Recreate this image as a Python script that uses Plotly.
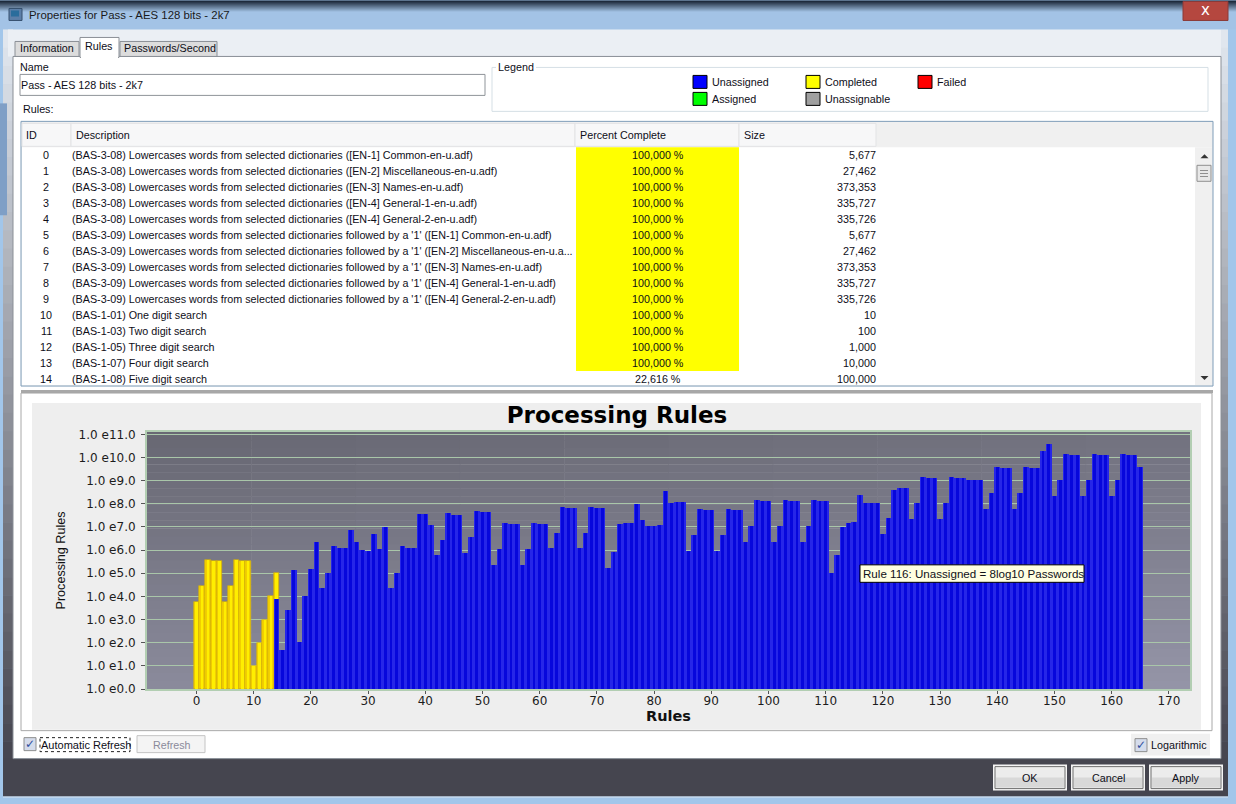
import plotly.graph_objects as go

W, H = 1236, 804
PL, PR, PT, PB = 147, 1190, 432, 689.3

# ---------- data ----------
# heights are log10(passwords)
completed_rules = list(range(0, 15))
completed_log10 = [3.75, 4.44, 5.57, 5.53, 5.53, 3.75, 4.44, 5.57, 5.53, 5.53, 1.0, 2.0, 3.0, 4.0, 5.0]
unassigned_rules = list(range(14, 166))
unassigned_log10 = [
    3.87, 1.70, 3.42, 5.15, 2.01, 4.03, 5.19, 6.36, 4.36, 5.03, 6.17, 6.11, 6.11, 6.86, 6.36, 6.01,
    5.98, 6.69, 6.04, 7.00, 4.36, 5.03, 6.17, 6.11, 6.11, 7.56, 7.56, 7.07, 5.77, 6.44, 7.59, 7.53,
    7.53, 5.88, 6.56, 7.69, 7.65, 7.65, 5.35, 6.04, 7.16, 7.12, 7.12, 5.35, 6.04, 7.16, 7.12, 7.12,
    6.07, 6.74, 7.88, 7.82, 7.82, 6.07, 6.74, 7.88, 7.82, 7.82, 5.23, 5.92, 7.12, 7.16, 7.15, 7.99,
    7.29, 7.03, 7.03, 7.07, 8.57, 8.02, 8.07, 8.07, 5.98, 6.66, 7.78, 7.74, 7.74, 5.98, 6.66, 7.78,
    7.74, 7.74, 6.36, 7.03, 8.17, 8.12, 8.12, 6.36, 7.03, 8.17, 8.12, 8.12, 6.36, 7.03, 8.17, 8.12,
    8.12, 5.00, 5.77, 7.00, 7.16, 7.20, 8.37, 8.04, 8.04, 8.04, 6.69, 7.39, 8.60, 8.66, 8.68, 7.35,
    8.04, 9.16, 9.12, 9.12, 7.35, 8.04, 9.16, 9.12, 9.12, 9.03, 9.03, 9.03, 7.78, 8.47, 9.59, 9.55,
    9.55, 7.78, 8.47, 9.59, 9.55, 9.55, 10.28, 10.58, 8.34, 9.03, 10.15, 10.11, 10.11, 8.34, 9.03,
    10.15, 10.11, 10.11, 8.34, 9.03, 10.15, 10.11, 10.11, 9.59,
]
y_tick_values = list(range(0, 12))
y_tick_labels = ["1.0 e%d.0" % v for v in y_tick_values]
x_tick_values = list(range(0, 171, 10))

row_ids = list(range(15))
row_descriptions = [
    "(BAS-3-08) Lowercases words from selected dictionaries ([EN-1] Common-en-u.adf)",
    "(BAS-3-08) Lowercases words from selected dictionaries ([EN-2] Miscellaneous-en-u.adf)",
    "(BAS-3-08) Lowercases words from selected dictionaries ([EN-3] Names-en-u.adf)",
    "(BAS-3-08) Lowercases words from selected dictionaries ([EN-4] General-1-en-u.adf)",
    "(BAS-3-08) Lowercases words from selected dictionaries ([EN-4] General-2-en-u.adf)",
    "(BAS-3-09) Lowercases words from selected dictionaries followed by a '1' ([EN-1] Common-en-u.adf)",
    "(BAS-3-09) Lowercases words from selected dictionaries followed by a '1' ([EN-2] Miscellaneous-en-u.a...",
    "(BAS-3-09) Lowercases words from selected dictionaries followed by a '1' ([EN-3] Names-en-u.adf)",
    "(BAS-3-09) Lowercases words from selected dictionaries followed by a '1' ([EN-4] General-1-en-u.adf)",
    "(BAS-3-09) Lowercases words from selected dictionaries followed by a '1' ([EN-4] General-2-en-u.adf)",
    "(BAS-1-01) One digit search",
    "(BAS-1-03) Two digit search",
    "(BAS-1-05) Three digit search",
    "(BAS-1-07) Four digit search",
    "(BAS-1-08) Five digit search",
]
row_percents = ["100,000 %"] * 14 + ["22,616 %"]
row_sizes = ["5,677", "27,462", "373,353", "335,727", "335,726", "5,677", "27,462", "373,353",
             "335,727", "335,726", "10", "100", "1,000", "10,000", "100,000"]
legend_items = [("Unassigned", "#0000ff", 693, 75), ("Assigned", "#00ff00", 693, 92),
                ("Completed", "#ffff00", 806, 75), ("Unassignable", "#a0a0a0", 806, 92),
                ("Failed", "#ff0000", 918, 75)]

# ---------- helpers ----------
UI = "Liberation Sans"
shapes, notes = [], []
px = lambda x: (x - PL) / (PR - PL)
py = lambda y: (PB - y) / (PB - PT)

def rect(x0, y0, x1, y1, fill=None, line=None, lw=1, layer="below", dash=None):
    shapes.append(dict(type="rect", xref="paper", yref="paper", x0=px(x0), x1=px(x1), y0=py(y0), y1=py(y1),
                       fillcolor=fill or "rgba(0,0,0,0)", layer=layer,
                       line=dict(color=line or "rgba(0,0,0,0)", width=lw if line else 0, dash=dash or "solid")))

def text(x, y, s, anchor="left", size=10.75, color="#0e0e18", font=UI):
    shift = -1 if anchor == "left" else 0
    notes.append(dict(xref="paper", yref="paper", x=px(x + shift), y=py(y), text=s, showarrow=False, xanchor=anchor,
                      yanchor="middle", borderpad=0, font=dict(family=font, size=size, color=color)))

def tri(cx, cy, up=True):
    s = -1 if up else 1
    pts = [(cx - 4, cy - 2 * s), (cx + 4, cy - 2 * s), (cx, cy + 2 * s)]
    p = " L ".join(f"{px(a)},{py(b)}" for a, b in pts)
    shapes.append(dict(type="path", xref="paper", yref="paper", layer="below", fillcolor="#333333",
                       line=dict(width=0), path=f"M {p} Z"))

def gradient_v(x0, y0, x1, y1, top, bottom, steps):
    for i in range(steps):
        t = i / max(1, steps - 1)
        col = "rgb(%d,%d,%d)" % tuple(round(top[k] + (bottom[k] - top[k]) * t) for k in range(3))
        ya = y0 + (y1 - y0) * i / steps
        yb = y0 + (y1 - y0) * (i + 1) / steps
        rect(x0, ya, x1, yb + 0.5, fill=col)

# ---------- window chrome ----------
rect(0, 0, W, 29, fill="#a3c3e6")
gradient_v(0, 0, W, 12, (24, 36, 52), (163, 195, 230), 12)
rect(1183, 1, 1228, 20, fill="#b5473f", line="#8a3a38")
text(1205.5, 10, "x", "center", 15, "#ffffff", "DejaVu Sans")
rect(9, 8, 22, 20, fill="#5c7fa8", line="#36506f")
rect(11, 10, 19, 16, fill="#2a6d9c")
text(29, 15, "Properties for Pass - AES 128 bits - 2k7", size=11.4, color="#1a1a1a")

# frame sides fade from silver to the dark footer colour
gradient_v(3, 29, 13, 760, (224, 230, 238), (70, 70, 80), 40)
gradient_v(1221, 29, 1228, 760, (224, 230, 238), (70, 70, 80), 40)
rect(0, 103, 7, 215, fill="#7f9fc6")
rect(8, 29, 1221, 56, fill="#ebeff4")
rect(3, 759, 1228, 797, fill="#45454f")
rect(3, 797, 1228, 798, fill="#d8e4f0")
rect(13, 56, 1221, 759, fill="#ffffff", line="#8a8f96")

# tabs
rect(15, 41, 79, 56, fill="#dcdcdc", line="#8a8f96")
rect(120, 41, 217, 56, fill="#dcdcdc", line="#8a8f96")
rect(80, 37, 119, 57, fill="#ffffff", line="#8a8f96")
rect(81, 55, 118, 58, fill="#ffffff")
text(20, 48, "Information")
text(85, 46, "Rules")
text(124, 48, "Passwords/Second")

# name and legend
text(20, 67, "Name")
rect(20, 74, 485, 95, fill="#ffffff", line="#8f9499")
text(21, 85, "Pass - AES 128 bits - 2k7")
rect(492, 67, 1208, 111, fill="#ffffff", line="#d5dfe5")
rect(496, 62, 536, 72, fill="#ffffff")
text(498, 67, "Legend")
for name, col, x, y in legend_items:
    rect(x, y, x + 14, y + 13, fill=col, line="#000000")
    text(x + 19, y + 7, name)
text(23, 109, "Rules:")

# table
rect(21, 121, 1213, 386, fill="#f0f0f0", line="#7f9db9")
rect(22, 147, 1212, 385, fill="#ffffff")
column_edges = [22, 71, 575, 739, 876]
for a, b in zip(column_edges[:-1], column_edges[1:]):
    rect(a, 123, b, 146, fill="#f7f7f8", line="#e2e3e5")
for x, s in zip([26, 76, 580, 744], ["ID", "Description", "Percent Complete", "Size"]):
    text(x, 135, s)
rect(576, 147, 739, 371, fill="#ffff00")
for i, (n, d, p, s) in enumerate(zip(row_ids, row_descriptions, row_percents, row_sizes)):
    y = 155 + 16 * i
    text(46, y, str(n), "center")
    text(72, y, d)
    text(657.5, y, p, "center")
    text(877, y, s, "right")
rect(1195, 147, 1212, 385, fill="#f0f0f0")
tri(1204.5, 156, True)
tri(1204.5, 378, False)
rect(1197, 165, 1211, 181, fill="#e8e8e8", line="#8f8f8f")
for yy in (170, 173, 176):
    rect(1200, yy, 1208, yy + 0.6, fill="#555555")

# splitter and chart panel
rect(21, 390, 1213, 393, fill="#a8a8a8")
rect(21, 393, 1212, 731, fill="#ffffff", line="#a8a8a8")
rect(32, 403, 1201, 730, fill="#eeeeee")

# plot area gradient (dark top left to light bottom right)
for col in range(10):
    xa = PL + (PR - PL) * col / 10
    xb = PL + (PR - PL) * (col + 1) / 10
    for i in range(32):
        t = i / 31
        base = (104 + 34 * t + 1.1 * col, 104 + 34 * t + 1.1 * col, 115 + 40 * t + 1.3 * col)
        c = "rgb(%d,%d,%d)" % tuple(round(v) for v in base)
        rect(xa, PT + (PB - PT) * i / 32, xb + 0.5, PT + (PB - PT) * (i + 1) / 32 + 0.5, fill=c)

# bottom strip
rect(24, 738, 36, 751, fill="#d5dceb", line="#8e8f8f")
text(30, 744.5, "✓", "center", 12, "#2f4f9e", "DejaVu Sans")
text(41, 745, "Automatic Refresh", size=11)
rect(40, 738, 130, 752, line="#222222", dash="dot")
rect(137, 736, 205, 753, fill="#f4f4f4", line="#c4c4c4")
text(171, 745, "Refresh", "center", 10.7, "#8a8a9a")
rect(1131, 734, 1210, 756, fill="#f0f0f0")
rect(1135, 739, 1147, 752, fill="#d5dceb", line="#8e8f8f")
text(1141, 745.5, "✓", "center", 12, "#2f4f9e", "DejaVu Sans")
text(1151, 745, "Logarithmic")
for x0, x1, s in [(993, 1067, "OK"), (1071, 1145, "Cancel"), (1149, 1223, "Apply")]:
    rect(x0, 765, x1, 791, fill="#f4f4f4")
    rect(x0 + 2, 767, x1 - 2, 789, fill="#ececec", line="#6f6f6f")
    rect(x0 + 3, 778, x1 - 3, 788, fill="#d8d8d8")
    text((x0 + x1) / 2, 778, s, "center")

# tooltip over the bars
rect(860, 565, 1084, 582.5, fill="#ffffe1", line="#000000", layer="above")
text(863, 574, "Rule 116: Unassigned = 8log10 Passwords", size=11.6, color="#101018")

# ---------- chart ----------
fig = go.Figure()
fig.add_bar(x=completed_rules, y=completed_log10, name="Completed", width=1,
            marker=dict(color="#f2cf00", line=dict(color="#d8b400", width=0.6)))
fig.add_bar(x=completed_rules, y=completed_log10, name="Completed", width=0.45, hoverinfo="skip",
            marker=dict(color="#ffee00", line=dict(width=0)))
fig.add_bar(x=unassigned_rules, y=unassigned_log10, name="Unassigned", width=1,
            marker=dict(color="#2626e8", line=dict(width=0)))
fig.add_bar(x=unassigned_rules, y=unassigned_log10, name="Unassigned", width=0.5, hoverinfo="skip",
            marker=dict(color="#0707dc", line=dict(width=0)))

fig.update_layout(
    width=W, height=H, autosize=False, showlegend=False, barmode="overlay", bargap=0,
    margin=dict(l=PL, r=W - PR, t=PT, b=H - PB, pad=0, autoexpand=False),
    paper_bgcolor="#a2c6ea", plot_bgcolor="rgba(0,0,0,0)",
    shapes=shapes, annotations=notes,
    font=dict(family="DejaVu Sans", size=12, color="#1c1c1c"),
    title=dict(text="<b>Processing Rules</b>", x=617 / W, xanchor="center", xref="container",
               y=1 - 415 / H, yref="container", yanchor="middle",
               font=dict(family="DejaVu Sans", size=23, color="#000000")),
    xaxis=dict(range=[-8.65, 173.7], tickmode="array", tickvals=x_tick_values, ticks="outside", ticklen=3,
               ticklabelstandoff=-3, tickcolor="#555555", showgrid=False, zeroline=False, showline=True, mirror=True,
               linecolor="#b2ceb2", linewidth=2, automargin=False,
               title=dict(text="<b>Rules</b>", standoff=2, font=dict(family="DejaVu Sans", size=14.5, color="#111111"))),
    yaxis=dict(range=[0, 11.1], tickmode="array", tickvals=y_tick_values, ticktext=y_tick_labels, ticks="outside",
               ticklen=4, ticklabelstandoff=3, tickcolor="#555555", gridcolor="#a9c6a9", gridwidth=1.4, zeroline=False,
               showline=True, mirror=True, linecolor="#b2ceb2", linewidth=2, automargin=False,
               title=dict(text="Processing Rules", standoff=10,
                          font=dict(family="Liberation Sans", size=12.6, color="#111111"))),
)
fig.write_html("out.html", config=dict(displayModeBar=False),
               post_script="document.body.style.margin='0';document.documentElement.style.overflow='hidden';")
